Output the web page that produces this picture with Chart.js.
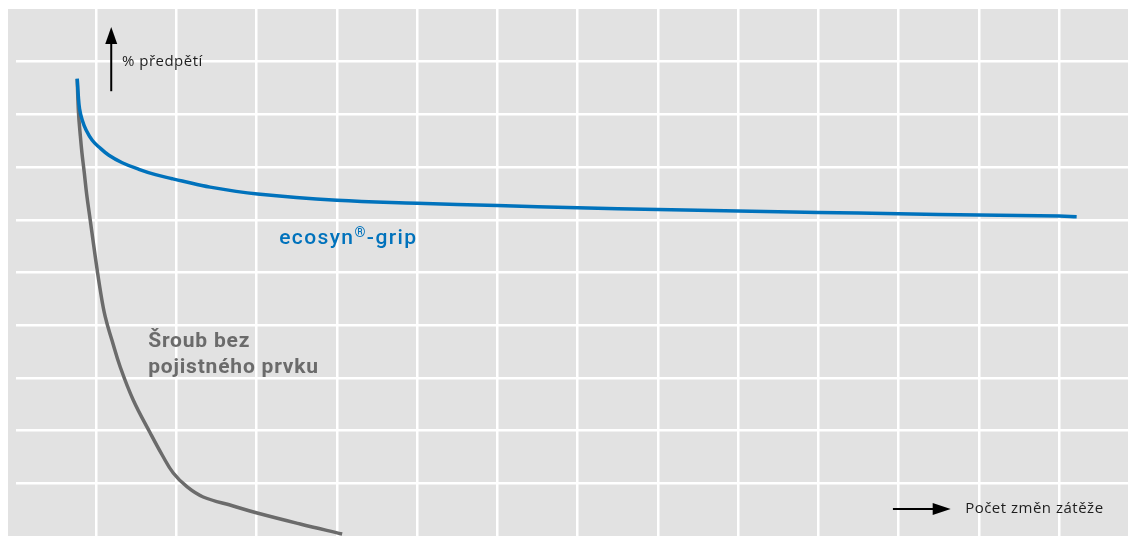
<!DOCTYPE html>
<html>
<head>
<meta charset="utf-8">
<script src="https://cdn.jsdelivr.net/npm/chart.js@4/dist/chart.umd.min.js"></script>
<style>
  html, body { margin: 0; padding: 0; background: #fff; }
  #wrap { width: 1130px; height: 536px; }
</style>
</head>
<body>
<div id="wrap"><canvas id="chart"></canvas></div>
<script>
// curves, x = grid columns, y = grid rows
const gripX = [-0.237, -0.224, -0.208, -0.174, -0.125, -0.050, 0.034, 0.158, 0.324, 0.532, 0.739, 0.947, 1.072, 1.42, 2.01, 3.0, 4.0, 5.0, 6.0, 7.0, 8.0, 9.0, 10.0, 11.0, 12.0, 12.22];
const gripY = [8.677, 8.362, 8.108, 7.888, 7.698, 7.509, 7.381, 7.224, 7.083, 6.958, 6.856, 6.780, 6.736, 6.62, 6.49, 6.37, 6.315, 6.27, 6.23, 6.195, 6.165, 6.14, 6.115, 6.09, 6.07, 6.06];
const boltX = [-0.237, -0.221, -0.199, -0.178, -0.150, -0.118, -0.075, -0.012, 0.050, 0.112, 0.199, 0.299, 0.461, 0.673, 0.822, 0.960, 1.134, 1.333, 1.707, 2.006, 2.542, 3.065];
const boltY = [8.672, 8.027, 7.609, 7.268, 6.907, 6.471, 5.996, 5.300, 4.668, 4.161, 3.700, 3.207, 2.581, 1.954, 1.537, 1.195, 0.930, 0.740, 0.569, 0.436, 0.228, 0.038];

const yLabel = '% předpětí';
const xLabel = 'Počet změn zátěže';
const gripLabel = ['ecosyn', '®', '-grip'];
const boltLabel = ['Šroub bez', 'pojistného prvku'];

const toPts = (xs, ys) => xs.map((x, i) => ({x: x, y: ys[i]}));

const blue = '#0072bc';
const grey = '#6b6b6b';

const deco = {
  id: 'deco',
  beforeDraw(c) {
    const ctx = c.ctx;
    ctx.save();
    ctx.fillStyle = '#e2e2e2';
    ctx.fillRect(8, c.chartArea.top, c.chartArea.right - 8, c.chartArea.bottom - c.chartArea.top);
    ctx.restore();
  },
  afterDatasetsDraw(c) {
    const ctx = c.ctx, xs = c.scales.x, ys = c.scales.y;
    const px = v => xs.getPixelForValue(v), py = v => ys.getPixelForValue(v);
    ctx.save();
    // y arrow
    ctx.strokeStyle = '#000'; ctx.fillStyle = '#000'; ctx.lineWidth = 2;
    let ax = px(0.187), ay0 = py(8.44), ay1 = py(9.66);
    ctx.beginPath(); ctx.moveTo(ax, ay0); ctx.lineTo(ax, ay1 + 12); ctx.stroke();
    ctx.beginPath(); ctx.moveTo(ax, ay1); ctx.lineTo(ax - 6, ay1 + 17); ctx.lineTo(ax + 6, ay1 + 17); ctx.closePath(); ctx.fill();
    // x arrow
    let bx0 = px(9.93), bx1 = px(10.65), by = py(0.51);
    ctx.beginPath(); ctx.moveTo(bx0, by); ctx.lineTo(bx1 - 12, by); ctx.stroke();
    ctx.beginPath(); ctx.moveTo(bx1, by); ctx.lineTo(bx1 - 18, by - 6); ctx.lineTo(bx1 - 18, by + 6); ctx.closePath(); ctx.fill();
    // axis names
    ctx.fillStyle = '#1e1e1e';
    ctx.font = '15px "Open Sans"';
    ctx.letterSpacing = '0.5px';
    ctx.textBaseline = 'middle';
    ctx.fillText(yLabel, px(0.32), py(9.0));
    ctx.fillText(xLabel, px(10.83), by);
    // series names
    ctx.textBaseline = 'alphabetic';
    ctx.letterSpacing = '1.4px';
    ctx.fillStyle = blue;
    ctx.font = '500 21px Roboto';
    let gx = px(2.28), gy = py(5.54);
    ctx.fillText(gripLabel[0], gx, gy);
    gx += ctx.measureText(gripLabel[0]).width;
    ctx.font = '500 14px Roboto';
    ctx.fillText(gripLabel[1], gx, gy - 7);
    gx += ctx.measureText(gripLabel[1]).width;
    ctx.font = '500 21px Roboto';
    ctx.fillText(gripLabel[2], gx, gy);
    ctx.fillStyle = grey;
    ctx.font = 'bold 21px Roboto';
    ctx.letterSpacing = '0.8px';
    ctx.fillText(boltLabel[0], px(0.648), py(3.59));
    ctx.fillText(boltLabel[1], px(0.648), py(3.09));
    ctx.restore();
  }
};

const gridColor = ctx => (ctx.tick && (ctx.tick.value <= ctx.scale.min || ctx.tick.value >= ctx.scale.max)) ? 'rgba(0,0,0,0)' : '#ffffff';

new Chart(document.getElementById('chart'), {
  type: 'line',
  data: {
    datasets: [
      { label: gripLabel.join(''), data: toPts(gripX, gripY), borderColor: blue, borderWidth: 3.5, pointRadius: 0, tension: 0.4, fill: false },
      { label: boltLabel.join(' '), data: toPts(boltX, boltY), borderColor: grey, borderWidth: 3.5, pointRadius: 0, tension: 0.4, fill: false }
    ]
  },
  options: {
    responsive: true,
    maintainAspectRatio: false,
    animation: false,
    layout: { padding: { left: 16, right: 2, top: 9, bottom: 0 } },
    plugins: { legend: { display: false }, tooltip: { enabled: false } },
    scales: {
      x: {
        type: 'linear', min: -1, max: 12.86,
        ticks: { display: false, stepSize: 1 },
        grid: { color: gridColor, lineWidth: 2.5, drawTicks: false },
        border: { display: false }
      },
      y: {
        type: 'linear', min: 0, max: 10,
        ticks: { display: false, stepSize: 1 },
        grid: { color: gridColor, lineWidth: 2.5, drawTicks: false },
        border: { display: false }
      }
    }
  },
  plugins: [deco]
});
</script>
</body>
</html>
